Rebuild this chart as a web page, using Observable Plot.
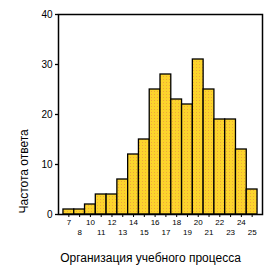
<!DOCTYPE html>
<html>
<head>
<meta charset="utf-8">
<script src="https://cdn.jsdelivr.net/npm/d3@7"></script>
<script src="https://cdn.jsdelivr.net/npm/@observablehq/plot@0.6"></script>
<style>
  html, body { margin: 0; padding: 0; background: #fff; }
  #chart svg { display: block; }
</style>
</head>
<body>
<div id="chart"></div>
<script>
const categories = ["7","8","10","11","12","13","14","15","16","17","18","19","20","21","22","23","24","25"];
const counts = [1,1,2,4,4,7,12,15,25,28,23,22,31,25,19,19,13,5];
const yTicks = [0,10,20,30,40];
const xTitle = "Организация учебного процесса";
const yTitle = "Частота ответа";

const data = categories.map((c, i) => ({cat: c, n: counts[i]}));
const topRow = categories.filter((_, i) => i % 2 === 0);
const bottomRow = categories.filter((_, i) => i % 2 === 1);

const chart = Plot.plot({
  width: 276,
  height: 273,
  marginLeft: 58,
  marginRight: 14,
  marginTop: 14,
  marginBottom: 59,
  style: {fontFamily: "Liberation Sans, Arial, sans-serif", background: "#fff", color: "#000"},
  x: {type: "band", domain: categories, paddingInner: 0, paddingOuter: 0.46, round: false, label: null},
  y: {domain: [0, 40], label: null},
  marks: [
    Plot.barY(data, {x: "cat", y: "n", fill: "url(#dots)", stroke: "black", strokeWidth: 1.3, inset: 0}),
    Plot.frame({stroke: "black", strokeWidth: 1.5}),
    Plot.axisY({ticks: yTicks, tickSize: 3, tickPadding: 3, fontSize: 10, label: null, strokeWidth: 1.3}),
    Plot.axisX({ticks: topRow, tickSize: 3, tickPadding: 2, fontSize: 8, label: null}),
    Plot.axisX({ticks: bottomRow, tickSize: 3, tickPadding: 12, fontSize: 8, label: null}),
    Plot.text([xTitle], {frameAnchor: "bottom", dy: 47, dx: -10, fontSize: 12, fill: "black"}),
    Plot.text([yTitle], {frameAnchor: "bottom-left", rotate: -90, dx: -31, dy: -1, textAnchor: "start", fontSize: 12, fill: "black"})
  ]
});

const ns = "http://www.w3.org/2000/svg";
const defs = document.createElementNS(ns, "defs");
defs.innerHTML = '<pattern id="dots" width="3" height="3" patternUnits="userSpaceOnUse">' +
  '<rect width="3" height="3" fill="#FCD42C"></rect>' +
  '<rect x="1" y="1" width="1" height="1" fill="#EFA83A"></rect></pattern>';
chart.insertBefore(defs, chart.firstChild);
document.getElementById("chart").appendChild(chart);
</script>
</body>
</html>
